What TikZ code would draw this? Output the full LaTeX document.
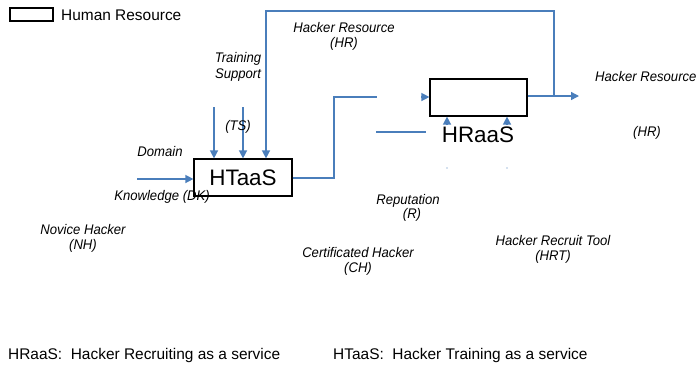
\documentclass[tikz,border=0pt]{standalone}
\usepackage{fontspec}
\setmainfont{Liberation Sans}
\newfontfamily\lblfont[FakeStretch=0.94]{Liberation Sans}
\usetikzlibrary{arrows.meta}
\definecolor{linkblue}{RGB}{74,126,187}
\tikzset{
  flow/.style={draw=linkblue, line width=1.4bp},
  arr/.style={flow, -{Triangle[length=8bp,width=8bp]}},
  svcbox/.style={draw=black, line width=1.2bp, rectangle, inner sep=0pt, fill=white},
  lbl/.style={font=\lblfont\fontsize{14}{15.5}\selectfont\itshape, inner sep=0pt, align=center},
  plain/.style={font=\fontsize{15.5}{18}\selectfont, inner sep=0pt},
  big/.style={font=\fontsize{22.5}{26}\selectfont, inner sep=0pt}
}
\begin{document}
\begin{tikzpicture}[x=1bp,y=-1bp]
\clip (0,0) rectangle (696,366);
\useasboundingbox (0,0) rectangle (696,366);

% legend
\node[svcbox, minimum width=43bp, minimum height=13bp] (legbox) at (31.5,14.5) {};
\node[plain, anchor=west] (legtxt) at (61,15) {Human Resource};

% boxes
\node[svcbox, minimum width=98bp, minimum height=37bp] (htaas) at (243,177.5) {};
\node[big] (htaastxt) at (243,178) {HTaaS};
\node[svcbox, minimum width=97bp, minimum height=37bp] (hraas) at (478.5,97.5) {};
\node[big] (hraastxt) at (478,135) {HRaaS};

% coordinates
\coordinate (ts1) at (214,107);
\coordinate (ts2) at (243,107);
\coordinate (dk) at (137,179);
\coordinate (c1) at (334,178);
\coordinate (c2) at (334,97);
\coordinate (c3) at (377,97);
\coordinate (hin) at (421,97);
\coordinate (l1) at (376,132);
\coordinate (l2) at (426,132);
\coordinate (out) at (579,96);
\coordinate (jn) at (554,96);
\coordinate (top1) at (554,11);
\coordinate (top2) at (266,11);
\coordinate (u1) at (447,125);
\coordinate (u2) at (507,125);

% connectors
\draw[arr] (ts1) -- (ts1 |- htaas.north);
\draw[arr] (ts2) -- (ts2 |- htaas.north);
\draw[arr] (dk) -- (htaas.west |- dk);
\draw[flow] (htaas.east |- c1) -- (c1) -- (c2) -- (c3);
\draw[arr] (hin) -- (hraas.west |- hin);
\draw[flow] (l1) -- (l2);
\draw[arr] (hraas.east |- out) -- (out);
\draw[arr] (jn) -- (top1) -- (top2) -- (top2 |- htaas.north);
\draw[arr] (u1) -- (u1 |- hraas.south);
\draw[arr] (u2) -- (u2 |- hraas.south);
\fill[linkblue] (447,168) circle (0.7bp);
\fill[linkblue] (507,168) circle (0.7bp);

% labels
\node[lbl] (ts) at (238,67) {Training\\Support};
\node[lbl] (tsab) at (238,127) {(TS)};
\node[lbl] (dom) at (160,152) {Domain};
\node[lbl] (know) at (162,197) {Knowledge (DK)};
\node[lbl] (hr1) at (344,36.5) {Hacker Resource\\(HR)};
\node[lbl, anchor=west] (hr2) at (595,77) {Hacker Resource};
\node[lbl] (hr2ab) at (647,133) {(HR)};
\node[lbl] (rep) at (408,201) {Reputation};
\node[lbl] (repab) at (412,215) {(R)};
\node[lbl] (ch) at (358,261.5) {Certificated Hacker\\(CH)};
\node[lbl] (nh) at (83,238.5) {Novice Hacker\\(NH)};
\node[lbl] (hrt) at (553,249.5) {Hacker Recruit Tool\\(HRT)};

% footer
\node[plain, anchor=west] (f1) at (8,355) {HRaaS:\ \ Hacker Recruiting as a service};
\node[plain, anchor=west] (f2) at (333,355) {HTaaS:\ \ Hacker Training as a service};
\end{tikzpicture}
\end{document}
